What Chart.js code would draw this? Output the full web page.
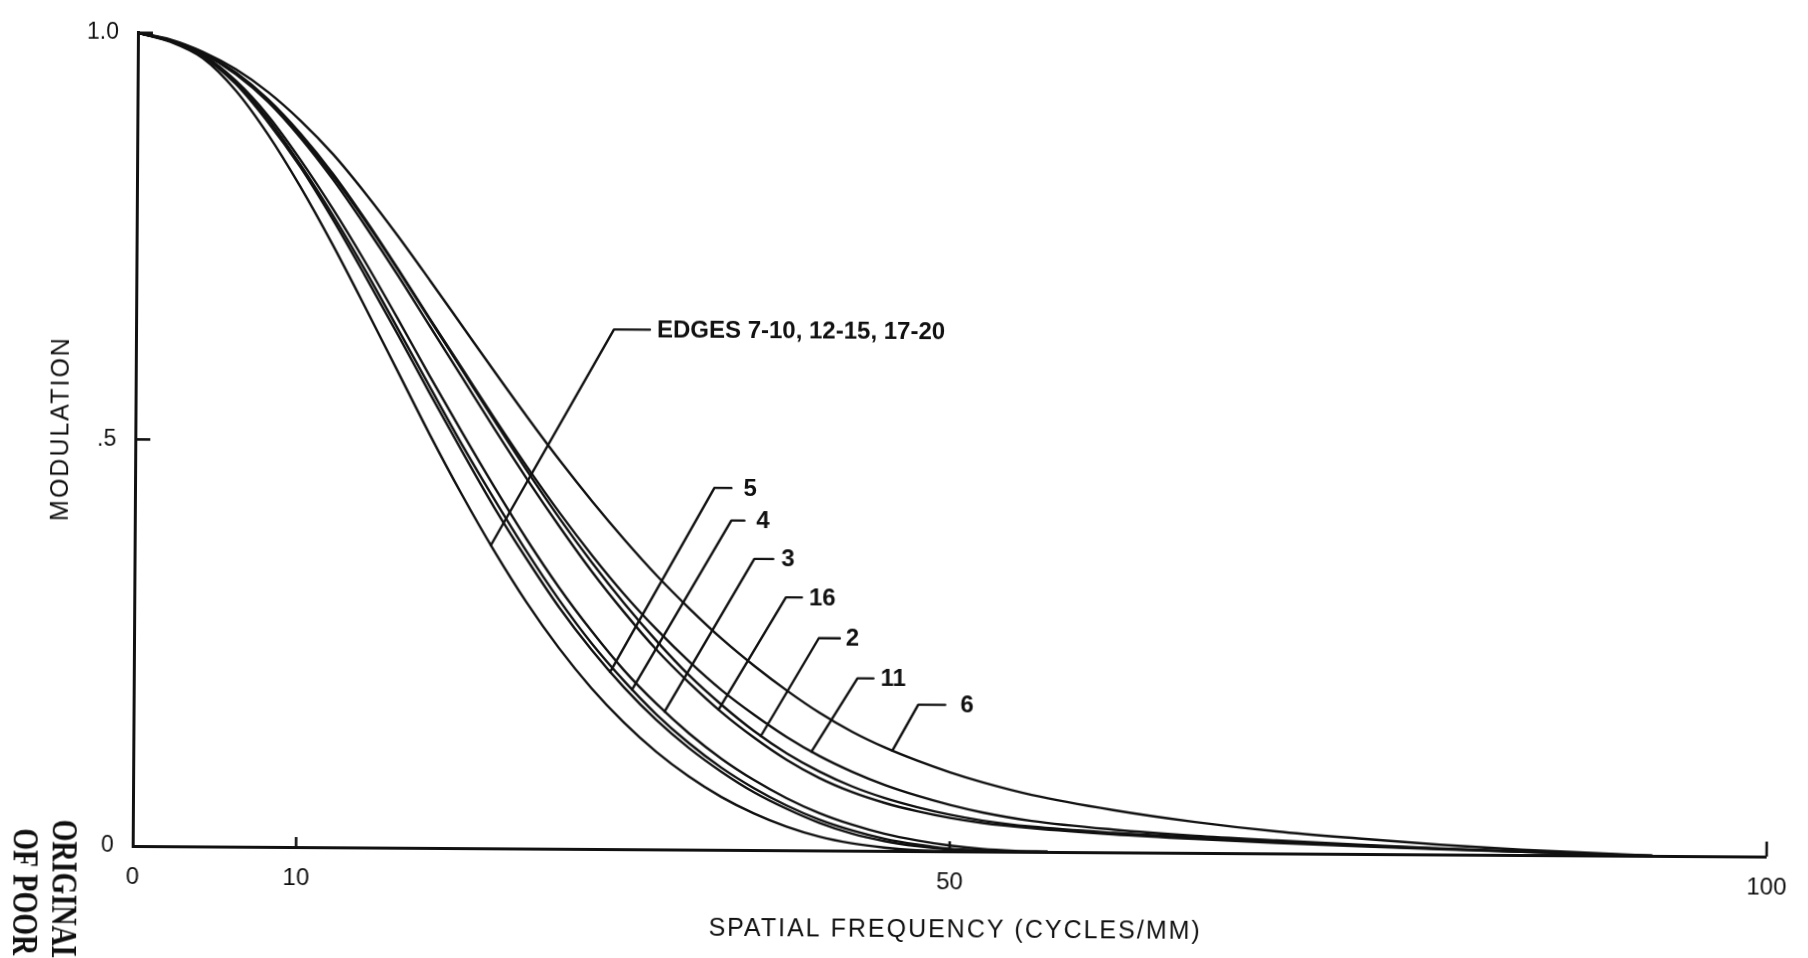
<!DOCTYPE html>
<html>
<head>
<meta charset="utf-8">
<title>Modulation vs spatial frequency</title>
<script src="https://cdn.jsdelivr.net/npm/chart.js@4.4.1/dist/chart.umd.min.js"></script>
<style>
  html, body { margin: 0; padding: 0; background: #fff; overflow: hidden; }
  /* the sheet sits slightly skewed, as on the scanned page */
  canvas { display: block; transform-origin: 137px 180px; transform: rotate(0.372deg); }
</style>
</head>
<body>
<canvas id="mtf" width="1808" height="958"></canvas>
<script>
// Spatial frequency samples (cycles/mm)
const freqInner = [0, 2, 4, 6, 8, 10, 12, 14, 16, 18, 20, 22, 24, 26, 28, 30, 32, 34, 36, 38, 40, 42, 44, 46, 48, 50, 52, 54, 56];
const freqOuter = [0, 2, 4, 6, 8, 10, 12, 14, 16, 18, 20, 22, 24, 26, 28, 30, 32, 34, 36, 38, 40, 42, 44, 46, 48, 50, 52, 55, 60, 65, 70, 75, 80, 85, 90, 93];

// Modulation per edge (inner grid)
const modEdges = [1, 0.989, 0.969, 0.93, 0.876, 0.812, 0.741, 0.665, 0.587, 0.509, 0.435, 0.366, 0.303, 0.247, 0.198, 0.156, 0.12, 0.09, 0.065, 0.045, 0.029, 0.017, 0.009, 0.004, 0.001, 0, 0, 0, 0];
const mod5 = [1, 0.99, 0.971, 0.938, 0.891, 0.836, 0.772, 0.703, 0.632, 0.559, 0.488, 0.419, 0.356, 0.297, 0.245, 0.199, 0.159, 0.125, 0.096, 0.071, 0.051, 0.034, 0.021, 0.012, 0.006, 0.002, 0, 0, 0];
const mod4 = [1, 0.99, 0.972, 0.94, 0.895, 0.839, 0.777, 0.71, 0.639, 0.567, 0.496, 0.429, 0.365, 0.306, 0.253, 0.207, 0.166, 0.131, 0.101, 0.076, 0.055, 0.038, 0.025, 0.015, 0.008, 0.003, 0.001, 0, 0];
const mod3 = [1, 0.99, 0.973, 0.942, 0.899, 0.845, 0.785, 0.72, 0.651, 0.58, 0.511, 0.444, 0.38, 0.321, 0.268, 0.22, 0.179, 0.143, 0.112, 0.086, 0.064, 0.046, 0.032, 0.021, 0.013, 0.007, 0.003, 0.001, 0];

// Modulation per edge (outer grid)
const mod16 = [1, 0.991, 0.975, 0.95, 0.916, 0.872, 0.821, 0.764, 0.704, 0.641, 0.578, 0.515, 0.454, 0.396, 0.341, 0.291, 0.245, 0.205, 0.169, 0.138, 0.111, 0.089, 0.072, 0.059, 0.049, 0.041, 0.035, 0.029, 0.022, 0.017, 0.013, 0.0095, 0.0065, 0.0038, 0.0013, 0];
const mod2 = [1, 0.991, 0.975, 0.951, 0.918, 0.875, 0.825, 0.77, 0.711, 0.649, 0.587, 0.525, 0.464, 0.406, 0.352, 0.302, 0.256, 0.214, 0.178, 0.146, 0.119, 0.097, 0.079, 0.065, 0.054, 0.045, 0.038, 0.031, 0.024, 0.019, 0.0145, 0.0105, 0.007, 0.004, 0.0014, 0];
const mod11 = [1, 0.991, 0.976, 0.952, 0.919, 0.877, 0.828, 0.772, 0.712, 0.65, 0.589, 0.528, 0.469, 0.413, 0.361, 0.313, 0.27, 0.231, 0.196, 0.166, 0.139, 0.116, 0.097, 0.081, 0.068, 0.057, 0.048, 0.038, 0.028, 0.021, 0.016, 0.0115, 0.0075, 0.0043, 0.0015, 0];
const mod6 = [1, 0.992, 0.977, 0.956, 0.928, 0.893, 0.852, 0.804, 0.752, 0.697, 0.641, 0.585, 0.53, 0.477, 0.427, 0.38, 0.336, 0.296, 0.259, 0.226, 0.196, 0.169, 0.146, 0.127, 0.111, 0.097, 0.085, 0.07, 0.052, 0.038, 0.027, 0.019, 0.012, 0.0065, 0.0025, 0];

// Curve names, and the frequency where each name's leader meets its curve
const curveNames = ['EDGES 7-10, 12-15, 17-20', '5', '4', '3', '16', '2', '11', '6'];
const leaderFreq = [21.8, 29.15, 30.5, 32.5, 35.8, 38.4, 41.5, 46.45];

// Axis ticks
const xTicks = [0, 10, 50, 100];
const xTickLabels = ['0', '10', '50', '100'];
const yTicks = [0, 0.5, 1];
const yTickLabels = ['0', '.5', '1.0'];

const ink = '#111';
const sans = '"Liberation Sans", Arial, Helvetica, sans-serif';

function series(freq, mod) {
  return freq.map((f, i) => ({ x: f, y: mod[i] }));
}

const curves = [
  [freqInner, modEdges], [freqInner, mod5], [freqInner, mod4], [freqInner, mod3],
  [freqOuter, mod16], [freqOuter, mod2], [freqOuter, mod11], [freqOuter, mod6]
];

// leader lines from each curve up to its name, plus the inward axis ticks, titles and stamp
const annotate = {
  id: 'annotate',
  afterDatasetsDraw(chart, args, opts) {
    const { ctx, scales: { x, y } } = chart;
    ctx.save();
    ctx.strokeStyle = ink;
    ctx.fillStyle = ink;
    ctx.lineWidth = 2.4;
    ctx.lineJoin = 'round';
    ctx.lineCap = 'round';
    ctx.font = 'bold 24px ' + sans;
    ctx.textBaseline = 'middle';
    curveNames.forEach((name, i) => {
      const px = x.getPixelForValue(leaderFreq[i]);
      let hit = chart.getDatasetMeta(i).dataset.interpolate({ x: px }, 'x');
      if (Array.isArray(hit)) hit = hit[0];
      const ex = x.getPixelForValue(opts.elbows[i][0]);
      const ey = y.getPixelForValue(opts.elbows[i][1]);
      ctx.beginPath();
      ctx.moveTo(hit.x, hit.y);
      ctx.lineTo(ex, ey);
      ctx.lineTo(ex + opts.hooks[i], ey);
      ctx.stroke();
      ctx.fillText(name, ex + opts.hooks[i] + opts.gaps[i], ey + 1);
    });

    // inward tick marks
    ctx.lineWidth = 2.6;
    ctx.lineCap = 'butt';
    const left = x.getPixelForValue(0);
    const base = y.getPixelForValue(0);
    [0.5, 1].forEach(v => {
      const py = y.getPixelForValue(v);
      ctx.beginPath();
      ctx.moveTo(left, py);
      ctx.lineTo(left + 15, py);
      ctx.stroke();
    });
    [[10, 10], [50, 10], [100, 15]].forEach(([v, len]) => {
      const px = x.getPixelForValue(v);
      ctx.beginPath();
      ctx.moveTo(px, base);
      ctx.lineTo(px, base - len);
      ctx.stroke();
    });

    // axis titles
    ctx.font = '25px ' + sans;
    ctx.textAlign = 'center';
    if ('letterSpacing' in ctx) ctx.letterSpacing = '2px';
    ctx.fillText('SPATIAL FREQUENCY (CYCLES/MM)', 960, 925);
    ctx.save();
    ctx.translate(63, 429);
    ctx.rotate(-Math.PI / 2);
    ctx.fillText('MODULATION', 0, 0);
    ctx.restore();
    if ('letterSpacing' in ctx) ctx.letterSpacing = '0px';

    // rubber stamp in the lower-left margin
    ctx.font = 'bold 36px "Liberation Serif", "Times New Roman", serif';
    ctx.textAlign = 'left';
    ctx.textBaseline = 'alphabetic';
    [['ORIGINAL PAGE IS', 57, 820], ['OF POOR QUALITY', 18, 829]].forEach(([t, bx, top]) => {
      ctx.save();
      ctx.translate(bx, top);
      ctx.rotate(Math.PI / 2);
      ctx.scale(0.78, 1);
      ctx.fillText(t, 0, 0);
      ctx.restore();
    });
    ctx.restore();
  }
};

new Chart(document.getElementById('mtf'), {
  type: 'line',
  data: {
    datasets: curves.map(([f, m], i) => ({
      label: curveNames[i],
      data: series(f, m),
      clip: false
    }))
  },
  options: {
    responsive: false,
    animation: false,
    devicePixelRatio: 1,
    layout: { padding: { top: 26, right: 27, left: 0, bottom: 0 } },
    elements: {
      point: { radius: 0 },
      line: { borderColor: ink, borderWidth: 2.4, cubicInterpolationMode: 'monotone', fill: false }
    },
    plugins: {
      legend: { display: false },
      tooltip: { enabled: false },
      annotate: {
        elbows: [[29.25, 0.639], [35.46, 0.445], [36.51, 0.405], [37.93, 0.358], [39.88, 0.311], [41.91, 0.261], [44.29, 0.212], [48.02, 0.18]],
        hooks: [36, 17, 13, 19, 16, 21, 16, 27],
        gaps: [7, 12, 12, 8, 7, 6, 7, 15]
      }
    },
    scales: {
      x: {
        type: 'linear',
        min: 0,
        max: 100,
        afterBuildTicks: s => { s.ticks = xTicks.map(v => ({ value: v })); },
        afterFit: s => { s.height = 112; },
        grid: { display: false, drawTicks: false },
        border: { display: true, color: ink, width: 3 },
        ticks: {
          autoSkip: false,
          maxRotation: 0,
          padding: 17,
          color: ink,
          font: { family: sans, size: 24 },
          callback: v => xTickLabels[xTicks.indexOf(v)]
        }
      },
      y: {
        type: 'linear',
        min: 0,
        max: 1,
        afterBuildTicks: s => { s.ticks = yTicks.map(v => ({ value: v })); },
        afterFit: s => { s.width = 137; },
        grid: { display: false, drawTicks: false },
        border: { display: true, color: ink, width: 3 },
        ticks: {
          padding: 19,
          color: ink,
          font: { family: sans, size: 23 },
          callback: v => yTickLabels[yTicks.indexOf(v)]
        }
      }
    }
  },
  plugins: [annotate]
});
</script>
</body>
</html>
